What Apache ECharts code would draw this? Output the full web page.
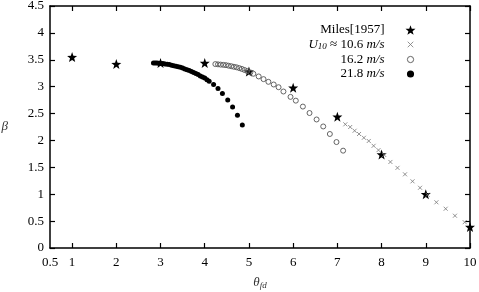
<!DOCTYPE html>
<html>
<head>
<meta charset="utf-8">
<script src="https://cdn.jsdelivr.net/npm/echarts@6/dist/echarts.min.js"></script>
<style>
  html, body { margin: 0; padding: 0; background: #fff; }
  #chart { width: 479px; height: 292px; }
</style>
</head>
<body>
<div id="chart"></div>
<script>
// tick positions
const xTicks = [0.5, 1, 2, 3, 4, 5, 6, 7, 8, 9, 10];
const yTicks = [0, 0.5, 1, 1.5, 2, 2.5, 3, 3.5, 4, 4.5];

// Miles [1957]
const milesX = [1, 2, 3, 4, 5, 6, 7, 8, 9, 10];
const milesY = [3.55, 3.42, 3.44, 3.44, 3.28, 2.98, 2.44, 1.74, 1.0, 0.39];

// U10 = 10.6 m/s
const u106X = [7.18, 7.29, 7.39, 7.49, 7.6, 7.71, 7.82, 7.93, 8.06, 8.2, 8.36, 8.53, 8.7, 8.87, 9.04, 9.24, 9.45, 9.66, 9.88];
const u106Y = [2.30, 2.25, 2.18, 2.12, 2.05, 1.99, 1.90, 1.82, 1.73, 1.60, 1.49, 1.37, 1.24, 1.12, 0.99, 0.85, 0.73, 0.60, 0.48];

// U10 = 16.2 m/s
const u162X = [4.24, 4.30, 4.36, 4.42, 4.48, 4.54, 4.60, 4.66, 4.72, 4.78, 4.84, 4.90, 4.96, 5.03, 5.10,
  5.22, 5.33, 5.44, 5.56, 5.67, 5.78, 5.94, 6.06, 6.22, 6.37, 6.53, 6.68, 6.83, 6.98, 7.13];
const u162Y = [3.42, 3.415, 3.41, 3.405, 3.40, 3.39, 3.38, 3.37, 3.36, 3.345, 3.33, 3.31, 3.29, 3.265, 3.24,
  3.19, 3.14, 3.09, 3.04, 2.99, 2.91, 2.81, 2.74, 2.63, 2.51, 2.39, 2.26, 2.12, 1.97, 1.81];

// U10 = 21.8 m/s
const u218X = [2.84, 2.88, 2.92, 2.96, 3.00, 3.05, 3.10, 3.15, 3.20, 3.25, 3.30, 3.35, 3.40, 3.45, 3.50, 3.55,
  3.60, 3.65, 3.70, 3.75, 3.80, 3.85, 3.90, 3.95, 4.00, 4.05, 4.10, 4.20, 4.30, 4.40, 4.52, 4.63, 4.74, 4.85];
const u218Y = [3.44, 3.44, 3.44, 3.435, 3.43, 3.43, 3.42, 3.415, 3.41, 3.40, 3.39, 3.38, 3.37, 3.36, 3.345, 3.33,
  3.315, 3.30, 3.28, 3.265, 3.245, 3.225, 3.20, 3.18, 3.16, 3.13, 3.10, 3.04, 2.965, 2.875, 2.75, 2.62, 2.47, 2.285];

const pair = (xs, ys) => xs.map((x, i) => [x, ys[i]]);

const font = "'Liberation Serif', 'DejaVu Serif', serif";
const starPath = "path://M0,-10L2.4,-3.3L9.5,-3.1L3.9,1.3L5.9,8.1L0,4.1L-5.9,8.1L-3.9,1.3L-9.5,-3.1L-2.4,-3.3Z";
const crossPath = "path://M0,0L10,10M10,0L0,10";
// legend icons padded so they draw smaller inside the legend box
const crossIcon = "path://M-4,-4M0,0L10,10M10,0L0,10M14,14";
const ringIcon = "path://M-3,-3M5,0A5,5,0,1,1,5,10A5,5,0,1,1,5,0ZM13,13";
const dotIcon = "path://M-2,-2M5,0A5,5,0,1,1,5,10A5,5,0,1,1,5,0ZM12,12";

const chart = echarts.init(document.getElementById("chart"));

const tickStyle = { show: true, inside: true, length: 5, lineStyle: { color: "#000", width: 1.2 } };
const lineStyle = { show: true, onZero: false, lineStyle: { color: "#000", width: 1.5 } };

chart.setOption({
  animation: false,
  backgroundColor: "#fff",
  textStyle: { fontFamily: font },
  grid: { left: 50, right: 9, top: 6, bottom: 44, outerBoundsMode: "none" },
  legend: {
    orient: "vertical",
    right: 56,
    top: 18,
    align: "right",
    itemWidth: 10,
    itemHeight: 10,
    itemGap: 0,
    selectedMode: false,
    textStyle: {
      fontFamily: font, fontSize: 13, color: "#000", lineHeight: 14,
      rich: {
        i: { fontFamily: font, fontSize: 13, fontStyle: "italic", color: "#000" },
        s: { fontFamily: font, fontSize: 9, fontStyle: "italic", color: "#000", padding: [5, 0, 0, 0] },
        g: { width: 16 },
      },
    },
    formatter: (name) => {
      if (name === "u106") return "{i|U}{s|10} ≈ 10.6 {i|m/s}{g|}";
      if (name === "u162") return "16.2 {i|m/s}{g|}";
      if (name === "u218") return "21.8 {i|m/s}{g|}";
      return name + "{g|}";
    },
    data: [
      { name: "Miles[1957]" },
      { name: "u106", icon: crossIcon, itemStyle: { color: "none", borderColor: "#777", borderWidth: 0.8 } },
      { name: "u162", icon: ringIcon, itemStyle: { color: "none", borderColor: "#555", borderWidth: 0.9 } },
      { name: "u218", icon: dotIcon },
    ],
  },
  xAxis: [
    {
      type: "value", min: 0.5, max: 10, position: "bottom",
      axisLine: lineStyle, splitLine: { show: false },
      axisTick: { ...tickStyle, customValues: xTicks.slice(1) },
      axisLabel: { customValues: xTicks, color: "#000", fontSize: 13, fontFamily: font, margin: 8 },
      name: "{t|θ}{s|fd}",
      nameLocation: "middle",
      nameGap: 27,
      nameTextStyle: {
        rich: {
          t: { fontFamily: font, fontSize: 13, fontStyle: "italic", color: "#333" },
          s: { fontFamily: font, fontSize: 9, fontStyle: "italic", color: "#333", padding: [6, 0, 0, 0] },
        },
      },
    },
    {
      type: "value", min: 0.5, max: 10, position: "top",
      axisLine: lineStyle, splitLine: { show: false },
      axisTick: { ...tickStyle, customValues: xTicks.slice(1) },
      axisLabel: { show: false },
    },
  ],
  yAxis: [
    {
      type: "value", min: 0, max: 4.5, interval: 0.5, position: "left",
      axisLine: lineStyle, splitLine: { show: false },
      axisTick: tickStyle,
      axisLabel: { customValues: yTicks, color: "#000", fontSize: 13, fontFamily: font, margin: 6 },
      name: "β",
      nameLocation: "middle",
      nameRotate: 0,
      nameGap: 42,
      nameTextStyle: { fontFamily: font, fontSize: 13, fontStyle: "italic", color: "#333" },
    },
    {
      type: "value", min: 0, max: 4.5, interval: 0.5, position: "right",
      axisLine: lineStyle, splitLine: { show: false },
      axisTick: tickStyle,
      axisLabel: { show: false },
    },
  ],
  series: [
    {
      name: "Miles[1957]", type: "scatter", clip: false, z: 2,
      symbol: starPath, symbolSize: 10,
      itemStyle: { color: "#000", opacity: 1 },
      data: pair(milesX, milesY),
    },
    {
      name: "u106", type: "scatter", clip: false, z: 3,
      symbol: crossPath, symbolSize: 4,
      itemStyle: { color: "none", borderColor: "#777", borderWidth: 0.8, opacity: 1 },
      data: pair(u106X, u106Y),
    },
    {
      name: "u162", type: "scatter", clip: false, z: 3,
      symbol: "circle", symbolSize: 5,
      itemStyle: { color: "rgba(0,0,0,0)", borderColor: "#555", borderWidth: 0.9, opacity: 1 },
      data: pair(u162X, u162Y),
    },
    {
      name: "u218", type: "scatter", clip: false, z: 4,
      symbol: "circle", symbolSize: 5,
      itemStyle: { color: "#000", opacity: 1 },
      data: pair(u218X, u218Y),
    },
  ],
});
</script>
</body>
</html>
